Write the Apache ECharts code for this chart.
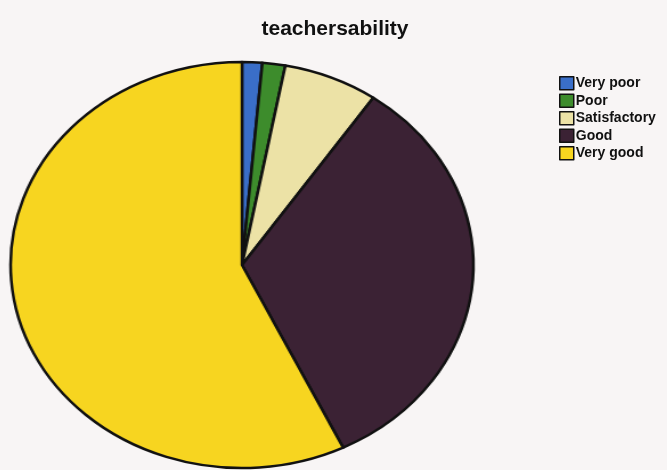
<!DOCTYPE html>
<html>
<head>
<meta charset="utf-8">
<script src="https://cdn.jsdelivr.net/npm/echarts@6/dist/echarts.min.js"></script>
<style>
  html, body { margin: 0; padding: 0; background: #f8f5f5; }
  #wrap { position: relative; width: 667px; height: 470px; overflow: hidden; }
  #pieChart, #keyChart { position: absolute; left: 0; top: 0; width: 667px; height: 470px; }
  /* the photographed pie is an ellipse, so stretch the pie layer sideways */
  #pieChart { transform-origin: 242px 265px; transform: scaleX(1.14); }
</style>
</head>
<body>
<div id="wrap">
  <div id="pieChart"></div>
  <div id="keyChart"></div>
</div>
<script>
var categories = ['Very poor', 'Poor', 'Satisfactory', 'Good', 'Very good'];
var percents = [1.4, 1.6, 6.6, 33.2, 57.2];
var colors = ['#3a6ec8', '#3d8c2c', '#ece2a6', '#3b2234', '#f7d520'];

var pieData = categories.map(function (name, i) {
  return { name: name, value: percents[i], itemStyle: { color: colors[i] } };
});

var pieChart = echarts.init(document.getElementById('pieChart'));
pieChart.setOption({
  animation: false,
  series: [{
    type: 'pie',
    center: [242, 265],
    radius: 203,
    startAngle: 90,
    clockwise: true,
    label: { show: false },
    labelLine: { show: false },
    itemStyle: { borderColor: '#111', borderWidth: 2.5 },
    data: pieData
  }]
});

var keyChart = echarts.init(document.getElementById('keyChart'));
keyChart.setOption({
  animation: false,
  title: {
    text: 'teachersability',
    left: 330,
    top: 14,
    textAlign: 'center',
    textStyle: {
      fontFamily: 'Liberation Sans',
      fontSize: 21,
      fontWeight: 'bold',
      color: '#111'
    }
  },
  legend: {
    orient: 'vertical',
    left: 554,
    top: 71,
    itemWidth: 14,
    itemHeight: 13,
    itemGap: 3,
    icon: 'rect',
    itemStyle: { borderColor: '#111', borderWidth: 1.5 },
    textStyle: {
      fontFamily: 'Liberation Sans',
      fontSize: 14,
      fontWeight: 'bold',
      color: '#111',
      padding: [0, 0, 0, -3]
    },
    data: categories
  },
  series: [{
    type: 'pie',
    silent: true,
    center: [-50, -50],
    radius: 0,
    label: { show: false },
    data: pieData
  }]
});
</script>
</body>
</html>
